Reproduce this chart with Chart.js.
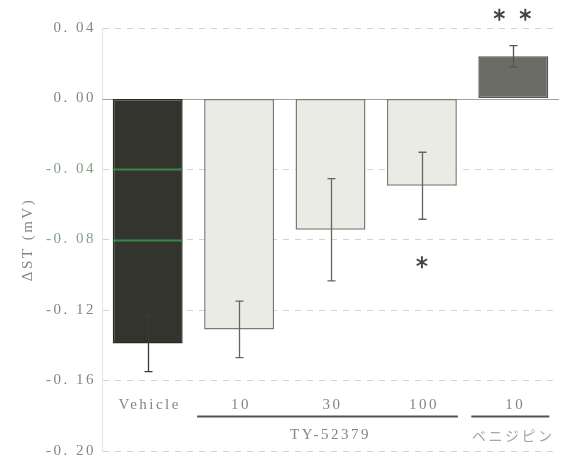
<!DOCTYPE html>
<html>
<head>
<meta charset="utf-8">
<script src="https://cdn.jsdelivr.net/npm/chart.js@4"></script>
<style>
  html, body { margin: 0; padding: 0; background: #fff; overflow: hidden; }
  #wrap { width: 567px; height: 466px; }
</style>
</head>
<body>
<div id="wrap"><canvas id="stChart"></canvas></div>
<script>
// data
const categories = ['Vehicle', '10', '30', '100', '10'];
const meanST = [-0.139, -0.131, -0.0745, -0.0495, 0.024];
const errST = [0.016, 0.016, 0.029, 0.019, 0.006];
const signif = ['', '', '', '*', '**'];
const groups = [
    { label: 'TY-52379', from: 1, to: 3 },
    { label: 'ベニジピン', from: 4, to: 4 }
];
const yTicks = [0.04, 0.00, -0.04, -0.08, -0.12, -0.16, -0.20];

const barFill = ['#34342f', '#ebebe6', '#ebebe6', '#ebebe6', '#6c6c67'];
const barEdge = ['#2a2a26', '#7a7a76', '#7a7a76', '#7a7a76', '#55554f'];
const errColor = ['#3b3b36', '#66665f', '#66665f', '#66665f', '#55554f'];
const labelFont = "'Liberation Serif', serif";
const textGray = '#858580';

function fmtTick(v) {
    if (Math.abs(v) < 1e-9) v = 0;
    return v.toFixed(2).replace('.', '. ');
}

function drawStar(ctx, x, y, r) {
    ctx.save();
    ctx.strokeStyle = '#45453f';
    ctx.lineWidth = 1.9;
    ctx.beginPath();
    for (let i = 0; i < 3; i++) {
        const a = Math.PI / 2 + i * Math.PI / 3;
        ctx.moveTo(x + r * Math.cos(a), y + r * Math.sin(a));
        ctx.lineTo(x - r * Math.cos(a), y - r * Math.sin(a));
    }
    ctx.stroke();
    ctx.restore();
}

const extrasPlugin = {
    id: 'extras',
    beforeDraw(chart) {
        chart.ctx.letterSpacing = '2.5px';
    },
    beforeDatasetsDraw(chart) {
        const ctx = chart.ctx;
        const y = chart.scales.y;
        const area = chart.chartArea;
        // zero line
        ctx.save();
        ctx.strokeStyle = '#a0a09c';
        ctx.lineWidth = 1;
        ctx.beginPath();
        ctx.moveTo(area.left, Math.round(y.getPixelForValue(0)) + 0.5);
        ctx.lineTo(area.right, Math.round(y.getPixelForValue(0)) + 0.5);
        ctx.stroke();
        ctx.restore();
    },
    afterDatasetsDraw(chart) {
        const ctx = chart.ctx;
        const x = chart.scales.x;
        const y = chart.scales.y;
        const bars = chart.getDatasetMeta(0).data;

        // scan-through lines on the dark bar
        const b0 = bars[0];
        ctx.save();
        ctx.strokeStyle = 'rgba(60,150,70,0.85)';
        ctx.lineWidth = 2;
        [-0.04, -0.08].forEach(v => {
            const py = Math.round(y.getPixelForValue(v)) + 0.5;
            ctx.beginPath();
            ctx.moveTo(b0.x - b0.width / 2, py);
            ctx.lineTo(b0.x + b0.width / 2, py);
            ctx.stroke();
        });
        ctx.restore();

        // error bars
        ctx.save();
        ctx.lineWidth = 1.3;
        meanST.forEach((m, i) => {
            const cx = Math.round(x.getPixelForValue(i)) + 0.5;
            const y1 = y.getPixelForValue(m - errST[i]);
            const y2 = y.getPixelForValue(m + errST[i]);
            ctx.strokeStyle = errColor[i];
            ctx.beginPath();
            ctx.moveTo(cx, y1);
            ctx.lineTo(cx, y2);
            ctx.moveTo(cx - 4, y1);
            ctx.lineTo(cx + 4, y1);
            ctx.moveTo(cx - 4, y2);
            ctx.lineTo(cx + 4, y2);
            ctx.stroke();
        });
        ctx.restore();

        // significance marks
        signif.forEach((s, i) => {
            if (!s) return;
            const cx = x.getPixelForValue(i);
            const m = meanST[i];
            const py = m < 0
                ? y.getPixelForValue(m - errST[i]) + 43
                : y.getPixelForValue(m + errST[i]) - 31;
            const n = s.length;
            for (let k = 0; k < n; k++) {
                const sx = cx + (k - (n - 1) / 2) * 26 - (n > 1 ? 1 : 0);
                drawStar(ctx, sx, py, 6);
            }
        });

        // category labels, group underlines and group names
        const base = y.getPixelForValue(-0.16);
        ctx.save();
        ctx.fillStyle = textGray;
        ctx.font = '15px ' + labelFont;
        ctx.textAlign = 'center';
        ctx.textBaseline = 'middle';
        categories.forEach((c, i) => {
            ctx.fillText(c, x.getPixelForValue(i) + 2, base + 25);
        });
        ctx.strokeStyle = '#55554f';
        ctx.lineWidth = 2;
        groups.forEach(g => {
            const x1 = x.getPixelForValue(g.from) - 42;
            const x2 = x.getPixelForValue(g.to) + 36;
            ctx.beginPath();
            ctx.moveTo(x1, base + 36);
            ctx.lineTo(x2, base + 36);
            ctx.stroke();
            const cjk = g.label.charCodeAt(0) > 255;
            ctx.font = cjk ? "14px 'Noto Sans CJK JP'" : '15px ' + labelFont;
            ctx.fillStyle = cjk ? '#a8a8a3' : textGray;
            ctx.fillText(g.label, (x.getPixelForValue(g.from) + x.getPixelForValue(g.to)) / 2, base + 55);
        });
        ctx.restore();
    }
};

const ctxST = document.getElementById('stChart').getContext('2d');
const stChart = new Chart(ctxST, {
    type: 'bar',
    data: {
        labels: categories,
        datasets: [{
            label: 'ΔST',
            data: meanST,
            backgroundColor: barFill,
            borderColor: barEdge,
            borderWidth: 1.5,
            borderSkipped: false,
            barPercentage: 0.765,
            categoryPercentage: 1.0
        }]
    },
    options: {
        responsive: true,
        maintainAspectRatio: false,
        animation: false,
        layout: {
            padding: { top: 28, right: 8, bottom: 0, left: 0 }
        },
        plugins: {
            legend: { display: false },
            tooltip: { enabled: false }
        },
        scales: {
            x: {
                display: false
            },
            y: {
                min: -0.20,
                max: 0.04,
                afterFit: axis => { axis.width = 102; },
                afterBuildTicks: axis => {
                    axis.ticks = yTicks.map(v => ({ value: v }));
                },
                ticks: {
                    padding: 6,
                    font: { family: labelFont, size: 15 },
                    color: c => (Math.abs(c.tick.value + 0.04) < 1e-6 || Math.abs(c.tick.value + 0.08) < 1e-6) ? '#86a088' : textGray,
                    callback: v => fmtTick(v)
                },
                grid: {
                    color: c => Math.abs(c.tick.value) < 1e-9 ? 'rgba(0,0,0,0)' : '#d4d4d0',
                    lineWidth: 1,
                    drawTicks: false
                },
                border: {
                    display: true,
                    color: '#e4e4e0',
                    dash: [6, 6]
                },
                title: {
                    display: true,
                    text: 'ΔST (mV)',
                    color: textGray,
                    font: { family: labelFont, size: 15 },
                    padding: { top: 19, bottom: 0 }
                }
            }
        }
    },
    plugins: [extrasPlugin]
});
</script>
</body>
</html>
